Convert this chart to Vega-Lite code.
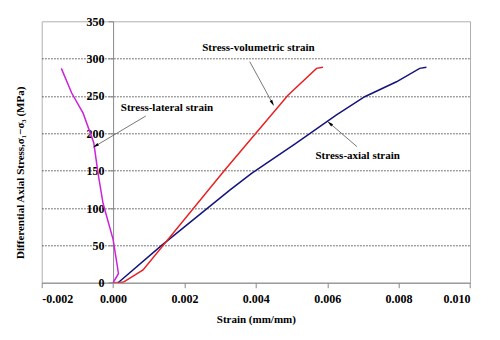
{
  "$schema": "https://vega.github.io/schema/vega-lite/v6.json",
  "width": 428.3,
  "height": 261.4,
  "autosize": "none",
  "padding": {"left": 41.7, "top": 21.3, "right": 30, "bottom": 57.3},
  "background": "white",
  "config": {
    "view": {"stroke": "#b0b0b0", "strokeWidth": 1},
    "font": "Liberation Serif"
  },
  "datasets": {
    "curves": [
      {"series": "axial", "i": 0, "strain": 0.00014, "stress": 0},
      {"series": "axial", "i": 1, "strain": 0.00136, "stress": 50},
      {"series": "axial", "i": 2, "strain": 0.00327, "stress": 124},
      {"series": "axial", "i": 3, "strain": 0.00388, "stress": 146.5},
      {"series": "axial", "i": 4, "strain": 0.0051, "stress": 186},
      {"series": "axial", "i": 5, "strain": 0.00626, "stress": 224.6},
      {"series": "axial", "i": 6, "strain": 0.00705, "stress": 249},
      {"series": "axial", "i": 7, "strain": 0.00794, "stress": 269},
      {"series": "axial", "i": 8, "strain": 0.00859, "stress": 287},
      {"series": "axial", "i": 9, "strain": 0.00878, "stress": 288.5},
      {"series": "volumetric", "i": 0, "strain": 0.0, "stress": 0},
      {"series": "volumetric", "i": 1, "strain": 0.00028, "stress": 0.5},
      {"series": "volumetric", "i": 2, "strain": 0.00084, "stress": 17},
      {"series": "volumetric", "i": 3, "strain": 0.00313, "stress": 151},
      {"series": "volumetric", "i": 4, "strain": 0.0049, "stress": 251},
      {"series": "volumetric", "i": 5, "strain": 0.0057, "stress": 287},
      {"series": "volumetric", "i": 6, "strain": 0.00588, "stress": 288.5},
      {"series": "lateral", "i": 0, "strain": 0.0, "stress": 0},
      {"series": "lateral", "i": 1, "strain": 0.00015, "stress": 12},
      {"series": "lateral", "i": 2, "strain": 0.00012, "stress": 22},
      {"series": "lateral", "i": 3, "strain": 0.0, "stress": 58},
      {"series": "lateral", "i": 4, "strain": -0.00028, "stress": 106},
      {"series": "lateral", "i": 5, "strain": -0.00042, "stress": 146},
      {"series": "lateral", "i": 6, "strain": -0.00054, "stress": 187},
      {"series": "lateral", "i": 7, "strain": -0.00084, "stress": 227},
      {"series": "lateral", "i": 8, "strain": -0.00116, "stress": 254},
      {"series": "lateral", "i": 9, "strain": -0.00145, "stress": 287}
    ],
    "notes": [
      {"key": "volumetric", "label": "Stress-volumetric strain", "tx": 0.004073, "ty": 313.9, "x1": 0.003829, "y1": 296, "x2": 0.004465, "y2": 240.3},
      {"key": "lateral", "label": "Stress-lateral strain", "tx": 0.00151, "ty": 233.6, "x1": 0.000916, "y1": 223.2, "x2": -0.000493, "y2": 183.1},
      {"key": "axial", "label": "Stress-axial strain", "tx": 0.006854, "ty": 170.1, "x1": 0.006835, "y1": 182.1, "x2": 0.00607, "y2": 213.5}
    ]
  },
  "layer": [
    {
      "data": {"name": "curves"},
      "mark": {"type": "line", "strokeWidth": 1.5, "clip": true},
      "encoding": {
        "x": {
          "field": "strain", "type": "quantitative",
          "scale": {"domain": [-0.002, 0.01], "nice": false, "zero": false},
          "axis": {
            "values": [-0.002, 0, 0.002, 0.004, 0.006, 0.008, 0.01],
            "tickCount": 7,
            "labelOverlap": false,
            "labelExpr": "replace(format(datum.value, '.3f'), '\u2212', '-')",
            "title": "Strain (mm/mm)",
            "grid": false,
            "domainColor": "#888888",
            "tickColor": "#888888",
            "tickSize": 5,
            "labelFont": "Liberation Serif", "labelFontWeight": "bold", "labelFontSize": 12, "labelColor": "black",
            "labelPadding": 6,
            "titleFont": "Liberation Serif", "titleFontWeight": "bold", "titleFontSize": 11, "titleColor": "black",
            "titlePadding": 9
          }
        },
        "y": {
          "field": "stress", "type": "quantitative",
          "scale": {"domain": [0, 350], "nice": false},
          "axis": {
            "values": [0, 50, 100, 150, 200, 250, 300, 350],
            "tickCount": 8,
            "labelOverlap": false,
            "offset": -71.4,
            "title": "Differential Axial Stress,σ₁−σ₃ (MPa)",
            "grid": true,
            "gridColor": "#222222",
            "gridDash": [1.5, 1.5],
            "gridWidth": 0.8,
            "gridOpacity": {"condition": {"test": "datum.value <= 0 || datum.value >= 350", "value": 0}, "value": 1},
            "domainColor": "#888888",
            "tickColor": "#888888",
            "tickSize": 5,
            "labelFont": "Liberation Serif", "labelFontWeight": "bold", "labelFontSize": 12, "labelColor": "black",
            "labelPadding": 4,
            "titleFont": "Liberation Serif", "titleFontWeight": "bold", "titleFontSize": 11, "titleColor": "black",
            "titleX": -93,
            "titleY": 151,
            "titleAngle": -90,
            "titleAlign": "center",
            "titleBaseline": "middle"
          }
        },
        "color": {
          "field": "series", "type": "nominal",
          "scale": {"domain": ["axial", "volumetric", "lateral"], "range": ["#14147e", "#e82222", "#cc22dd"]},
          "legend": null
        },
        "order": {"field": "i", "type": "quantitative"}
      }
    },
    {
      "data": {"name": "notes"},
      "mark": {"type": "rule", "color": "#555555", "strokeWidth": 0.8},
      "encoding": {
        "x": {"field": "x1", "type": "quantitative"},
        "y": {"field": "y1", "type": "quantitative"},
        "x2": {"field": "x2"},
        "y2": {"field": "y2"}
      }
    },
    {
      "data": {"name": "notes"},
      "transform": [{"filter": "datum.key == 'volumetric'"}],
      "mark": {"type": "point", "shape": "M0,-1L0.45,1L-0.45,1Z", "filled": true, "color": "black", "size": 40, "angle": 151, "opacity": 1},
      "encoding": {
        "x": {"field": "x2", "type": "quantitative"},
        "y": {"field": "y2", "type": "quantitative"}
      }
    },
    {
      "data": {"name": "notes"},
      "transform": [{"filter": "datum.key == 'lateral'"}],
      "mark": {"type": "point", "shape": "M0,-1L0.45,1L-0.45,1Z", "filled": true, "color": "black", "size": 40, "angle": 239, "opacity": 1},
      "encoding": {
        "x": {"field": "x2", "type": "quantitative"},
        "y": {"field": "y2", "type": "quantitative"}
      }
    },
    {
      "data": {"name": "notes"},
      "transform": [{"filter": "datum.key == 'axial'"}],
      "mark": {"type": "point", "shape": "M0,-1L0.45,1L-0.45,1Z", "filled": true, "color": "black", "size": 40, "angle": 311, "opacity": 1},
      "encoding": {
        "x": {"field": "x2", "type": "quantitative"},
        "y": {"field": "y2", "type": "quantitative"}
      }
    },
    {
      "data": {"name": "notes"},
      "mark": {"type": "text", "font": "Liberation Serif", "fontWeight": "bold", "fontSize": 11, "color": "black", "align": "center", "baseline": "middle"},
      "encoding": {
        "x": {"field": "tx", "type": "quantitative"},
        "y": {"field": "ty", "type": "quantitative"},
        "text": {"field": "label"}
      }
    }
  ]
}
